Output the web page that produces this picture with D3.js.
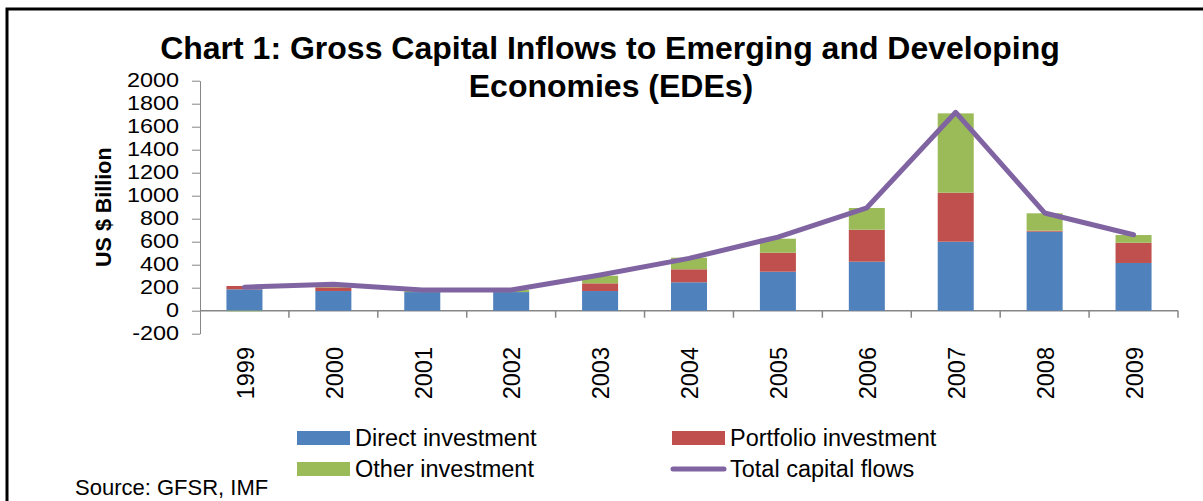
<!DOCTYPE html>
<html>
<head>
<meta charset="utf-8">
<script src="https://cdn.jsdelivr.net/npm/d3@7"></script>
<style>
  body { margin: 0; background: #fff; }
  svg { display: block; font-family: "Liberation Sans", Arial, sans-serif; }
</style>
</head>
<body>
<div id="chart"></div>
<script>
// Data (US $ billion)
const years = ['1999', '2000', '2001', '2002', '2003', '2004', '2005', '2006', '2007', '2008', '2009'];
const directInvestment = [186, 171, 162, 162, 171, 247, 339, 426, 600, 687, 415];
const portfolioInvestment = [29, 32, 0, 0, 67, 113, 165, 278, 426, 9, 176];
const otherInvestment = [-5, 25, 18, 18, 66, 101, 122, 189, 690, 151, 67];
const totalCapitalFlows = [205, 230, 180, 180, 310, 455, 640, 895, 1725, 850, 660];
const yTicks = [-200, 0, 200, 400, 600, 800, 1000, 1200, 1400, 1600, 1800, 2000];

const seriesKeys = ['direct', 'portfolio', 'other'];
const seriesNames = { direct: 'Direct investment', portfolio: 'Portfolio investment', other: 'Other investment' };
const colors = { direct: '#4F81BD', portfolio: '#C0504D', other: '#9BBB59', total: '#8064A2' };

const table = years.map((y, i) => ({
  year: y,
  direct: directInvestment[i],
  portfolio: portfolioInvestment[i],
  other: otherInvestment[i],
  total: totalCapitalFlows[i],
}));

const W = 1203, H = 501;
const plot = { left: 200, right: 1178, top: 80.7, bottom: 333.7 };

const svg = d3.select('#chart').append('svg').attr('width', W).attr('height', H);

// outer frame (runs off the right and bottom edges like the screenshot)
svg.append('rect')
  .attr('x', 7).attr('y', 9)
  .attr('width', W + 20).attr('height', H + 20)
  .attr('fill', 'none').attr('stroke', '#000').attr('stroke-width', 3);

// Title
const title = svg.append('text')
  .attr('text-anchor', 'middle')
  .style('font-size', '32px')
  .style('font-weight', 'bold')
  .attr('fill', '#000');
title.append('tspan').attr('x', 610).attr('y', 59).text('Chart 1: Gross Capital Inflows to Emerging and Developing');
title.append('tspan').attr('x', 611).attr('y', 97).text('Economies (EDEs)');

// Scales
const x = d3.scaleBand().domain(years).range([plot.left, plot.right]).padding(0);
const y = d3.scaleLinear().domain([-200, 2000]).range([plot.bottom, plot.top]);
const barW = x.bandwidth() * 0.405;

// Y axis
const yAxis = svg.append('g')
  .attr('transform', `translate(${plot.left},0)`)
  .call(d3.axisLeft(y).tickValues(yTicks).tickFormat((d) => String(d))
    .tickSize(8).tickPadding(13).tickSizeOuter(0));
yAxis.select('.domain').attr('stroke', '#868686');
yAxis.selectAll('.tick line').attr('stroke', '#868686');
// the original labels are wide but short, so stretch a smaller font sideways
yAxis.selectAll('.tick text')
  .style('font-size', '19.5px')
  .attr('fill', '#000')
  .each(function () {
    const len = this.getComputedTextLength();
    d3.select(this).attr('textLength', len * 1.2).attr('lengthAdjust', 'spacingAndGlyphs');
  });

// Y axis title
svg.append('text')
  .attr('transform', `translate(111,${(plot.top + plot.bottom) / 2}) rotate(-90)`)
  .attr('text-anchor', 'middle')
  .style('font-size', '21.5px')
  .style('font-weight', 'bold')
  .text('US $ Billion');

// X axis at zero
const xAxis = svg.append('g')
  .attr('transform', `translate(0,${y(0)})`);
xAxis.append('line')
  .attr('x1', plot.left).attr('x2', plot.right)
  .attr('stroke', '#868686').attr('stroke-width', 1.5);
xAxis.selectAll('.xtick')
  .data(years)
  .join('line')
  .attr('class', 'xtick')
  .attr('x1', (d) => x(d) + x.step())
  .attr('x2', (d) => x(d) + x.step())
  .attr('y1', 0).attr('y2', 7)
  .attr('stroke', '#868686').attr('stroke-width', 1.5);

// X tick labels, rotated
svg.append('g').selectAll('text')
  .data(years)
  .join('text')
  .attr('transform', (d) => `translate(${x(d) + x.bandwidth() / 2 + 1},347) rotate(-90)`)
  .attr('text-anchor', 'end')
  .attr('dy', '0.35em')
  .style('font-size', '23.5px')
  .text((d) => d);

// Stacked bars
const stack = d3.stack().keys(seriesKeys).offset(d3.stackOffsetDiverging);
const stacked = stack(table);

svg.append('g').selectAll('g')
  .data(stacked)
  .join('g')
  .attr('fill', (s) => colors[s.key])
  .selectAll('rect')
  .data((s) => s)
  .join('rect')
  .attr('x', (d) => x(d.data.year) + (x.bandwidth() - barW) / 2)
  .attr('y', (d) => y(Math.max(d[0], d[1])))
  .attr('width', barW)
  .attr('height', (d) => Math.abs(y(d[0]) - y(d[1])));

// Total line
const line = d3.line()
  .x((d) => x(d.year) + x.bandwidth() / 2)
  .y((d) => y(d.total));

svg.append('path')
  .datum(table)
  .attr('d', line)
  .attr('fill', 'none')
  .attr('stroke', colors.total)
  .attr('stroke-width', 5)
  .attr('stroke-linejoin', 'round')
  .attr('stroke-linecap', 'round');

// Legend
const legendItems = [
  { key: 'direct', type: 'rect', x: 297, y: 438 },
  { key: 'portfolio', type: 'rect', x: 672, y: 438 },
  { key: 'other', type: 'rect', x: 297, y: 469 },
  { key: 'total', type: 'line', x: 672, y: 469 },
];
const legend = svg.append('g').selectAll('g')
  .data(legendItems)
  .join('g')
  .attr('transform', (d) => `translate(${d.x},${d.y})`);

legend.filter((d) => d.type === 'rect')
  .append('rect')
  .attr('x', 0).attr('y', -7)
  .attr('width', 53).attr('height', 14)
  .attr('fill', (d) => colors[d.key]);

legend.filter((d) => d.type === 'line')
  .append('line')
  .attr('x1', 1).attr('x2', 52)
  .attr('stroke', colors.total)
  .attr('stroke-width', 5)
  .attr('stroke-linecap', 'round');

legend.append('text')
  .attr('x', 58)
  .attr('dy', '0.35em')
  .style('font-size', '23.5px')
  .text((d) => (d.key === 'total' ? 'Total capital flows' : seriesNames[d.key]));

// Source note (sits at the bottom edge like the original)
svg.append('text')
  .attr('x', 75).attr('y', 495)
  .style('font-size', '22px')
  .text('Source: GFSR, IMF');
</script>
</body>
</html>
